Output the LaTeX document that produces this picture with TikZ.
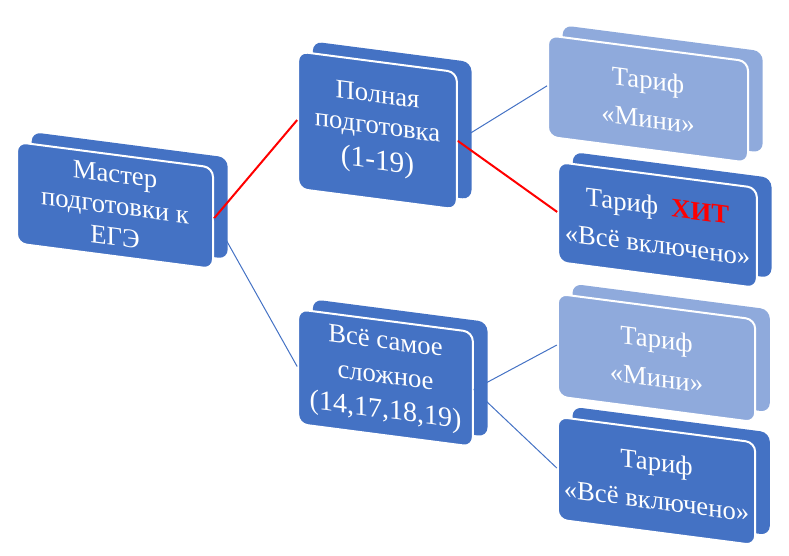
\documentclass[tikz,border=0pt]{standalone}
\usepackage{fontspec}
\setmainfont{Liberation Serif}
\usepackage{tikz}
\usetikzlibrary{positioning, shadows}
\definecolor{BoxColor}{RGB}{68,114,196}
\definecolor{LightBoxColor}{RGB}{143,170,220}
\definecolor{HitColor}{RGB}{255,0,0}
\newcommand{\hitmark}{{\color{HitColor}\bfseries ХИТ}}
\tikzset{
  box/.style={rectangle, rounded corners=7pt, inner sep=0pt, fill=#1, draw=white, line width=1.5pt,
    text=white, align=center, yslant=-0.13,
    general shadow={fill=#1, shadow xshift=11pt, shadow yshift=7.5pt}},
  box/.default=BoxColor,
  main text/.style={font=\fontsize{20}{23.5}\selectfont},
  tariff text/.style={font=\fontsize{20}{29}\selectfont},
  red link/.style={red, line width=1.5pt},
  blue link/.style={BoxColor, line width=0.75pt}
}

\begin{document}
\begin{tikzpicture}[x=0.75pt, y=0.75pt]
  \useasboundingbox (0,0) rectangle (789,556);
  % Left box
  \node[box, main text, minimum width=147pt, minimum height=76pt] (master) at (115,350.5) {Мастер\\подготовки к\\ЕГЭ};
  % Middle boxes
  \node[box, main text, minimum width=119pt, minimum height=103pt] (full) at (377.5,425.5) {Полная\\подготовка\\[3pt]{\fontsize{22}{24}\selectfont (1-19)}};
  \node[box, font=\fontsize{20}{26}\selectfont, minimum width=131pt, minimum height=86pt] (hard) at (385.5,178) {Всё самое\\сложное\\{\fontsize{21}{26}\selectfont (14,17,18,19)}};
  % Tariffs
  \node[box=LightBoxColor, tariff text, minimum width=150pt, minimum height=76pt] (fullmini) at (648,457) {Тариф\\«Мини»};
  \node[box, tariff text, minimum width=149pt, minimum height=75pt] (fullall) at (657.5,331) {Тариф~~\hitmark\\«Всё включено»};
  \node[box=LightBoxColor, tariff text, minimum width=148pt, minimum height=77pt] (hardmini) at (656.5,198) {Тариф\\«Мини»};
  \node[box, tariff text, minimum width=148pt, minimum height=77pt] (hardall) at (656.5,75) {Тариф\\«Всё включено»};
  % Links
  \draw[red link] (master.east) -- (full.west);
  \draw[blue link] (master.east) -- (hard.west);
  \draw[blue link] (full.east) -- (fullmini.west);
  \draw[red link] (full.east) -- (fullall.west);
  \draw[blue link] (hard.east) -- (hardmini.west);
  \draw[blue link] (hard.east) -- (hardall.west);
\end{tikzpicture}
\end{document}
